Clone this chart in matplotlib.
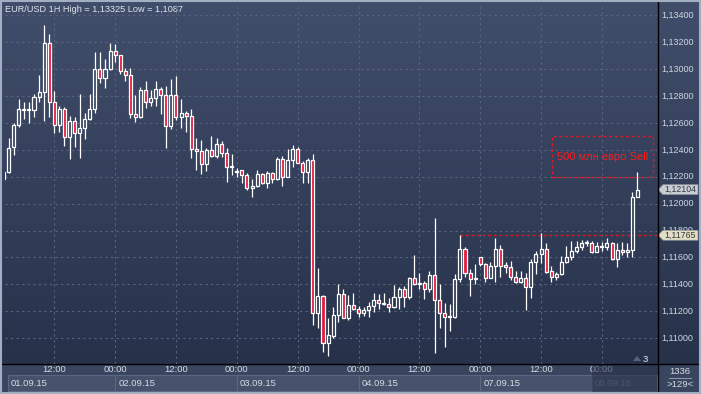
import matplotlib
matplotlib.use('Agg')
import matplotlib.pyplot as plt
from matplotlib.patches import Rectangle, Polygon
from matplotlib.colors import LinearSegmentedColormap
from matplotlib.transforms import blended_transform_factory
import numpy as np

plt.rcParams['font.family'] = ['Liberation Sans', 'DejaVu Sans']

# EUR/USD hourly candles, 01.09.15 02:00 .. 08.09.15 07:00 (weekend skipped)
days = ['01.09.15', '02.09.15', '03.09.15', '04.09.15', '07.09.15', '08.09.15']
day_hours = [list(range(2, 24)), list(range(24)), list(range(24)),
             list(range(24)), list(range(24)), list(range(8))]

opens = [1.12181, 1.12237, 1.12419, 1.12582, 1.12694, 1.12694, 1.12696, 1.12791, 1.12830, 1.13192,
         1.12756, 1.12582, 1.12701, 1.12493, 1.12612, 1.12527, 1.12560, 1.12632, 1.12701, 1.13003,
         1.12932, 1.12999, 1.13137, 1.13103, 1.12984, 1.12954, 1.12664, 1.12642, 1.12845, 1.12753,
         1.12783, 1.12852, 1.12808, 1.12579, 1.12808, 1.12642, 1.12672, 1.12652, 1.12404, 1.12389,
         1.12292, 1.12397, 1.12354, 1.12441, 1.12379, 1.12270, 1.12235, 1.12250, 1.12211, 1.12119,
         1.12129, 1.12220, 1.12156, 1.12226, 1.12181, 1.12332, 1.12200, 1.12324, 1.12404, 1.12304,
         1.12237, 1.12324, 1.11185, 1.11313, 1.10962, 1.11018, 1.11172, 1.11326, 1.11152, 1.11246,
         1.11217, 1.11185, 1.11209, 1.11239, 1.11284, 1.11252, 1.11254, 1.11234, 1.11304, 1.11363,
         1.11308, 1.11445, 1.11400, 1.11408, 1.11363, 1.11467, 1.11284, 1.11185, 1.11155, 1.11159,
         1.11437, 1.11661, 1.11482, 1.11437, 1.11601, 1.11549, 1.11449, 1.11536, 1.11661, 1.11544,
         1.11527, 1.11457, 1.11415, 1.11445, 1.11383, 1.11564, 1.11626, 1.11661, 1.11499, 1.11452,
         1.11477, 1.11568, 1.11606, 1.11648, 1.11680, 1.11705, 1.11710, 1.11643, 1.11675, 1.11675,
         1.11705, 1.11588, 1.11655, 1.11643, 1.11655, 1.12047]
highs = [1.12240, 1.12486, 1.12602, 1.12776, 1.12756, 1.12758, 1.12815, 1.12956, 1.13325, 1.13261,
         1.12840, 1.12726, 1.12716, 1.12652, 1.12646, 1.12815, 1.12672, 1.12815, 1.13130, 1.13130,
         1.13073, 1.13192, 1.13187, 1.13105, 1.13006, 1.13006, 1.12808, 1.12865, 1.12912, 1.12845,
         1.12912, 1.12869, 1.12875, 1.12924, 1.12951, 1.12778, 1.12689, 1.12704, 1.12490, 1.12473,
         1.12416, 1.12503, 1.12486, 1.12466, 1.12411, 1.12369, 1.12263, 1.12250, 1.12226, 1.12181,
         1.12250, 1.12230, 1.12243, 1.12237, 1.12349, 1.12354, 1.12404, 1.12436, 1.12419, 1.12317,
         1.12337, 1.12369, 1.11524, 1.11320, 1.11147, 1.11229, 1.11402, 1.11363, 1.11321, 1.11333,
         1.11239, 1.11229, 1.11271, 1.11338, 1.11328, 1.11333, 1.11296, 1.11395, 1.11383, 1.11388,
         1.11457, 1.11618, 1.11487, 1.11427, 1.11499, 1.11891, 1.11402, 1.11259, 1.11254, 1.11477,
         1.11767, 1.11680, 1.11512, 1.11551, 1.11603, 1.11561, 1.11568, 1.11742, 1.11692, 1.11568,
         1.11574, 1.11499, 1.11499, 1.11482, 1.11586, 1.11650, 1.11784, 1.11705, 1.11536, 1.11494,
         1.11611, 1.11685, 1.11722, 1.11722, 1.11730, 1.11730, 1.11722, 1.11717, 1.11717, 1.11742,
         1.11717, 1.11710, 1.11717, 1.11705, 1.12089, 1.12233]
lows = [1.12176, 1.12226, 1.12362, 1.12572, 1.12630, 1.12597, 1.12642, 1.12758, 1.12617, 1.12646,
        1.12527, 1.12535, 1.12429, 1.12330, 1.12423, 1.12337, 1.12478, 1.12622, 1.12672, 1.12895,
        1.12858, 1.12994, 1.13051, 1.12962, 1.12914, 1.12639, 1.12605, 1.12634, 1.12709, 1.12728,
        1.12728, 1.12664, 1.12416, 1.12555, 1.12622, 1.12565, 1.12535, 1.12342, 1.12250, 1.12218,
        1.12243, 1.12349, 1.12342, 1.12349, 1.12163, 1.12213, 1.12200, 1.12151, 1.12101, 1.12052,
        1.12126, 1.12146, 1.12119, 1.12151, 1.12176, 1.12131, 1.12195, 1.12275, 1.12300, 1.12151,
        1.12156, 1.11098, 1.11073, 1.10899, 1.10870, 1.10999, 1.11122, 1.11147, 1.11135, 1.11209,
        1.11159, 1.11165, 1.11155, 1.11197, 1.11214, 1.11246, 1.11197, 1.11222, 1.11219, 1.11229,
        1.11289, 1.11395, 1.11363, 1.11289, 1.11345, 1.10892, 1.11073, 1.10936, 1.11055, 1.11152,
        1.11420, 1.11457, 1.11313, 1.11402, 1.11536, 1.11420, 1.11445, 1.11420, 1.11457, 1.11482,
        1.11432, 1.11410, 1.11408, 1.11209, 1.11296, 1.11477, 1.11556, 1.11482, 1.11420, 1.11432,
        1.11469, 1.11556, 1.11581, 1.11631, 1.11655, 1.11685, 1.11635, 1.11640, 1.11650, 1.11655,
        1.11581, 1.11531, 1.11618, 1.11601, 1.11606, 1.12047]
closes = [1.12237, 1.12411, 1.12582, 1.12701, 1.12701, 1.12698, 1.12791, 1.12830, 1.13192, 1.12756,
          1.12582, 1.12701, 1.12493, 1.12612, 1.12523, 1.12560, 1.12632, 1.12701, 1.13003, 1.12932,
          1.12999, 1.13137, 1.13105, 1.12986, 1.12954, 1.12664, 1.12642, 1.12845, 1.12753, 1.12783,
          1.12852, 1.12808, 1.12579, 1.12808, 1.12642, 1.12672, 1.12649, 1.12404, 1.12389, 1.12292,
          1.12397, 1.12354, 1.12441, 1.12379, 1.12270, 1.12280, 1.12245, 1.12211, 1.12119, 1.12129,
          1.12220, 1.12156, 1.12226, 1.12181, 1.12332, 1.12200, 1.12324, 1.12404, 1.12304, 1.12237,
          1.12324, 1.11185, 1.11313, 1.10962, 1.11023, 1.11172, 1.11326, 1.11152, 1.11246, 1.11214,
          1.11185, 1.11209, 1.11239, 1.11284, 1.11259, 1.11259, 1.11234, 1.11304, 1.11363, 1.11308,
          1.11445, 1.11400, 1.11408, 1.11363, 1.11467, 1.11284, 1.11185, 1.11155, 1.11165, 1.11437,
          1.11661, 1.11482, 1.11437, 1.11445, 1.11549, 1.11449, 1.11536, 1.11661, 1.11539, 1.11527,
          1.11457, 1.11415, 1.11445, 1.11383, 1.11564, 1.11626, 1.11661, 1.11494, 1.11452, 1.11477,
          1.11568, 1.11606, 1.11648, 1.11680, 1.11705, 1.11713, 1.11643, 1.11685, 1.11685, 1.11705,
          1.11588, 1.11655, 1.11643, 1.11655, 1.12047, 1.12104]

price_ticks = [1.134, 1.132, 1.130, 1.128, 1.126, 1.124, 1.122, 1.120,
               1.118, 1.116, 1.114, 1.112, 1.110]
level_price = 1.11765      # red dotted level
level_start = 90
zone_low, zone_high = 1.1220, 1.1250
zone_start = 108.1
zone_text = '500 млн евро Sell'
bar_count, bar_hidden = '1336', '>129<'

# ---- layout (pixels) ----
W, H = 701, 394
left, right, top, bottom = 4.5, 657, 4, 364
x0, x1 = 0.18, 128.87
y0, y1 = 1.10808, 1.13484

def px(i):
    return left + (i - x0) * (right - left) / (x1 - x0)

def fmt(v):
    return f'{v:.5f}'.rstrip('0').replace('.', ',')

fig = plt.figure(figsize=(W / 100, H / 100), dpi=100)
bg = fig.add_axes([0, 0, 1, 1])
bg.set_xlim(0, W)
bg.set_ylim(H, 0)
bg.axis('off')

cmap = LinearSegmentedColormap.from_list('bg', ['#414e6b', '#27314a'])
bg.imshow(np.linspace(0, 1, 256).reshape(-1, 1), cmap=cmap, aspect='auto',
          extent=(0, W, bottom, 0), zorder=0)
bg.add_patch(Rectangle((0, bottom), W, H - bottom, color='#39445e', zorder=1))

ax = fig.add_axes([left / W, (H - bottom) / H, (right - left) / W, (bottom - top) / H])
ax.patch.set_alpha(0)
ax.set_xlim(x0, x1)
ax.set_ylim(y0, y1)
ax.axis('off')

# time index
hours = [h for hl in day_hours for h in hl]
idx = np.arange(len(opens))
grid_idx = [i for i, h in zip(idx, hours) if h in (0, 12)]

for p in price_ticks:
    ax.axhline(p, color='#58657f', lw=0.8, ls=(0, (2, 3)), zorder=1)
for i in grid_idx:
    ax.axvline(i, color='#58657f', lw=0.8, ls=(0, (2, 3)), zorder=1)

# candles
bw = 0.6
min_body = 0.00006
for i, o, h, l, c in zip(idx, opens, highs, lows, closes):
    lo_b, hi_b = min(o, c), max(o, c)
    if hi_b - lo_b < min_body:
        hi_b = lo_b + min_body
    ax.plot([i, i], [hi_b, h], color='white', lw=0.9, solid_capstyle='butt', zorder=3)
    ax.plot([i, i], [l, lo_b], color='white', lw=0.9, solid_capstyle='butt', zorder=3)
    face = '#e3173a' if c < o else 'none'
    ax.add_patch(Rectangle((i - bw / 2, lo_b), bw, hi_b - lo_b, facecolor=face,
                           edgecolor='white', lw=0.9, zorder=4))

# level line and sell zone
ax.plot([level_start, x1], [level_price, level_price], color='#e8141e', lw=1,
        ls=(0, (2, 2)), zorder=2)
ax.add_patch(Rectangle((zone_start, zone_low), 128.0 - zone_start, zone_high - zone_low,
                       fill=False, edgecolor='#e8141e', lw=1, ls=(0, (2, 2)), zorder=2))
ax.text((zone_start + 128.0) / 2, (zone_low + zone_high) / 2, zone_text, color='#ff1a1a',
        fontsize=8, ha='center', va='center', zorder=5)

# right price axis
ty = blended_transform_factory(bg.transData, ax.transData)
for p in price_ticks:
    bg.text(661, p, f'{p:.5f}'.replace('.', ','), transform=ty, color='#cfd6e2',
            fontsize=6.5, ha='left', va='center', zorder=3)

fh = 0.00037
for p, fc in [(closes[-1], '#c9ccd2'), (level_price, '#e3dfc4')]:
    bg.add_patch(Polygon([(658, p), (663, p + fh), (698, p + fh), (698, p - fh), (663, p - fh)],
                         closed=True, facecolor=fc, edgecolor='#8a8f99', lw=0.5,
                         transform=ty, zorder=5))
    bg.text(664, p, f'{p:.5f}'.replace('.', ','), transform=ty, color='#333842',
            fontsize=6.3, ha='left', va='center', zorder=6)

# frame lines
bg.plot([right + 0.5, right + 0.5], [0, H], color='black', lw=1, zorder=7)
bg.plot([0, W], [bottom, bottom], color='black', lw=1, zorder=7)
bg.add_patch(Rectangle((0.75, 0.75), W - 1.5, H - 1.5, fill=False, edgecolor='#a2afc3',
                       lw=1.5, zorder=8))

# title
bg.text(5, 9, f'EUR/USD 1H High = {fmt(max(highs))} Low = {fmt(min(lows))}',
        color='#dfe3ea', fontsize=6.6, ha='left', va='center', zorder=5)

# bottom time axis
for i in grid_idx:
    bg.text(px(i), 369, f'{hours[i]:02d}:00', color='#d6dbe4', fontsize=6.8,
            ha='center', va='center', zorder=3)

day_start = [0]
for hl in day_hours[:-1]:
    day_start.append(day_start[-1] + len(hl))
box_x = [left + 3.5] + [px(s) for s in day_start[1:-1]] + [592, right]
for k, d in enumerate(days):
    xa, xb = box_x[k], box_x[k + 1]
    last = k == len(days) - 1
    bg.add_patch(Rectangle((xa, 375), xb - xa, 16, facecolor='#46526b',
                           edgecolor='#5b6782', lw=0.8, zorder=2))
    bg.text(xa + 3, 383, d, color='#7f8a9e' if last else '#d6dbe4', fontsize=6.8,
            ha='left', va='center', zorder=3)
bg.add_patch(Rectangle((592, bottom + 0.5), right - 592, H - bottom, facecolor='#283148',
                       alpha=0.6, lw=0, zorder=4))

# bottom right corner
bg.text(680, 372, bar_count, color='#d6dbe4', fontsize=6.8, ha='center', va='center')
bg.plot([669, 691], [377.5, 377.5], color='#8793a8', lw=0.8)
bg.text(680, 384.5, bar_hidden, color='#d6dbe4', fontsize=6.8, ha='center', va='center')

# small marker in the plot corner
bg.add_patch(Polygon([(633, 361), (641, 361), (637, 356)], closed=True,
                     facecolor='#56627e', lw=0, zorder=5))
bg.text(645, 359, '3', color='#e6e9ef', fontsize=6.8, ha='center', va='center', zorder=5)

fig.savefig('out.png', dpi=100)
